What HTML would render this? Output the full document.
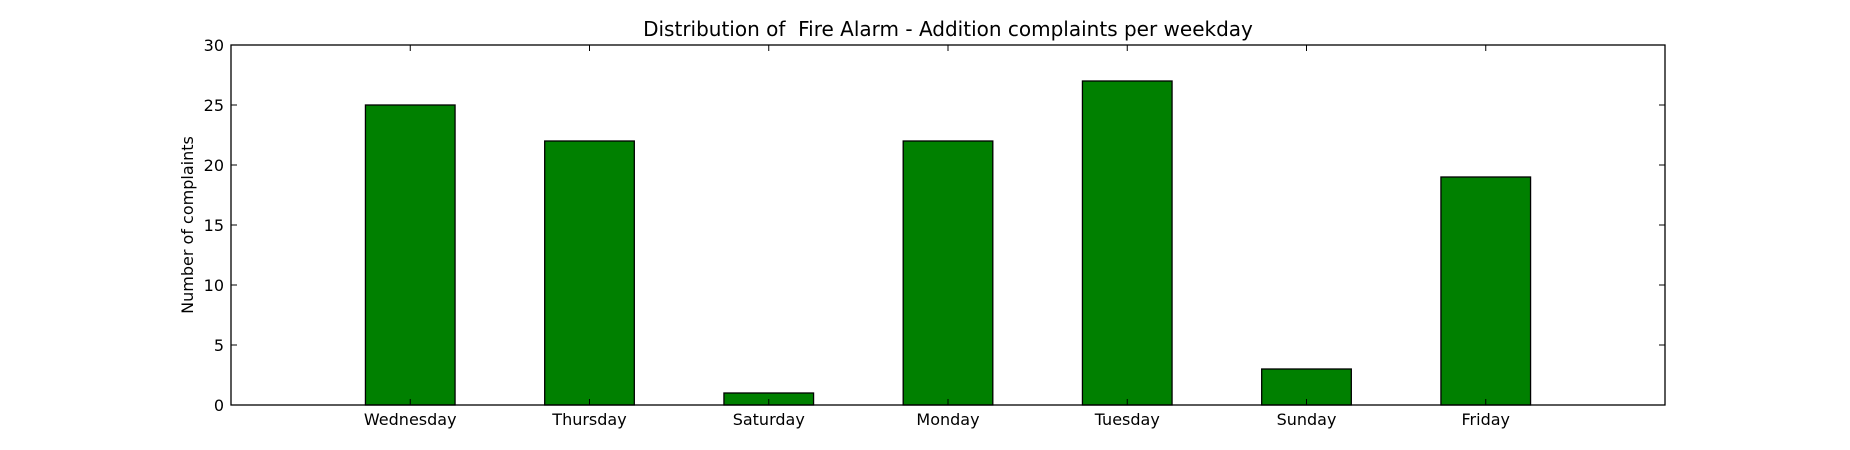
<!DOCTYPE html>
<html><head><meta charset="utf-8"><style>
html,body{margin:0;padding:0;background:#fff;}
svg{display:block;font-family:"DejaVu Sans","Liberation Sans",sans-serif;}
</style></head><body>
<svg id="chart" width="1850" height="450"></svg>
<script>
const categories=["Wednesday","Thursday","Saturday","Monday","Tuesday","Sunday","Friday"];
const values=[25,22,1,22,27,3,19];
const yTicks=[0,5,10,15,20,25,30];
const NS="http://www.w3.org/2000/svg";
const svg=document.getElementById('chart');
const L=231,R=1665,T=45,B=405;
const xMin=-1,xMax=7,yMin=0,yMax=30;
function xs(v){return L+(v-xMin)/(xMax-xMin)*(R-L);}
function ys(v){return B-(v-yMin)/(yMax-yMin)*(B-T);}
function mk(tag,attrs,parent){const e=document.createElementNS(NS,tag);for(const k in attrs)e.setAttribute(k,attrs[k]);(parent||svg).appendChild(e);return e;}
const bars=mk('g',{});


values.forEach((v,i)=>{
  const r=mk('rect',{x:xs(i-0.25),y:ys(v),width:xs(i+0.25)-xs(i-0.25),height:ys(0)-ys(v),fill:'#008000',stroke:'#000','stroke-width':1.3},bars);
  
  
});
const frame=mk('rect',{x:L,y:T,width:R-L,height:B-T,fill:'none',stroke:'#000','stroke-width':1.3});


const xt=mk('g',{});


categories.forEach((c,i)=>{
  const x=xs(i);
  mk('line',{x1:x,x2:x,y1:B,y2:B-6,stroke:'#000'},xt);
  mk('line',{x1:x,x2:x,y1:T,y2:T+6,stroke:'#000'},xt);
  const t=mk('text',{x:x,y:B+20,'text-anchor':'middle','font-size':16},xt);
  t.textContent=c;
  
  
});
const yt=mk('g',{});


yTicks.forEach(v=>{
  const y=ys(v);
  mk('line',{x1:L,x2:L+6,y1:y,y2:y,stroke:'#000'},yt);
  mk('line',{x1:R,x2:R-6,y1:y,y2:y,stroke:'#000'},yt);
  const t=mk('text',{x:L-7,y:y+6,'text-anchor':'end','font-size':16},yt);
  t.textContent=v;
  
  
});
const yl=mk('text',{x:0,y:0,'text-anchor':'middle','font-size':16,transform:'translate(193,225) rotate(-90)'});
yl.textContent='Number of complaints';


const ti=mk('text',{x:(L+R)/2,y:36,'text-anchor':'middle','font-size':20});
ti.textContent='Distribution of  Fire Alarm - Addition complaints per weekday';
ti.style.whiteSpace='pre';


</script>
</body></html>
